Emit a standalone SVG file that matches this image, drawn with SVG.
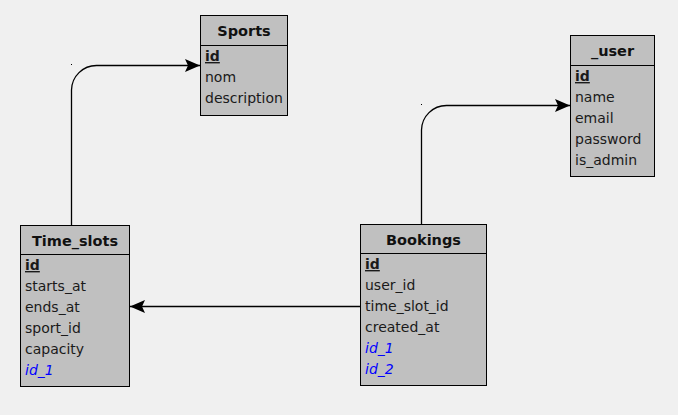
<svg xmlns="http://www.w3.org/2000/svg" width="678" height="415" viewBox="0 0 678 415">
<style>
.box{fill:#C0C0C0;stroke:#000;stroke-width:1}
.sep{stroke:#000;stroke-width:1}
.title{font-family:"DejaVu Sans",sans-serif;font-size:14.5px;font-weight:bold;fill:#111;text-anchor:middle}
.f{font-family:"DejaVu Sans",sans-serif;font-size:14px;fill:#1a1a1a}
.pk{font-weight:bold;text-decoration:underline}
.fk{font-style:italic;fill:#0000FF}
.conn{fill:none;stroke:#000;stroke-width:1.3}
</style>
<defs>
<marker id="arr" markerUnits="userSpaceOnUse" markerWidth="16" markerHeight="14" refX="15" refY="7" orient="auto">
<path d="M15,7 L0,0.5 L3,7 L0,13.5 Z" fill="#000"/>
</marker>
</defs>
<rect width="678" height="415" fill="#F0F0F0"/>
<g id="connectors">
<path class="conn" d="M71.5,225 V90 A25,25 0 0 1 96.5,65.5 H200" marker-end="url(#arr)"/>
<path class="conn" d="M421.5,224 V130 A25,25 0 0 1 446.5,105.5 H570" marker-end="url(#arr)"/>
<path class="conn" d="M360,306.5 H130" marker-end="url(#arr)"/>
<rect x="71" y="64" width="1" height="1" fill="#000"/>
<rect x="421" y="104" width="1" height="1" fill="#000"/>
</g>
<g id="Sports">
<rect class="box" x="200.5" y="15.5" width="87" height="100"/>
<line class="sep" x1="200.5" y1="45.5" x2="287.5" y2="45.5"/>
<text class="title" x="244" y="36">Sports</text>
<text class="f pk" x="205" y="61">id</text>
<text class="f" x="205" y="82">nom</text>
<text class="f" x="205" y="103">description</text>
</g>
<g id="_user">
<rect class="box" x="570.5" y="35.5" width="84" height="141"/>
<line class="sep" x1="570.5" y1="65.5" x2="654.5" y2="65.5"/>
<text class="title" x="612.5" y="56">_user</text>
<text class="f pk" x="575" y="81">id</text>
<text class="f" x="575" y="102">name</text>
<text class="f" x="575" y="123">email</text>
<text class="f" x="575" y="144">password</text>
<text class="f" x="575" y="165">is_admin</text>
</g>
<g id="Time_slots">
<rect class="box" x="20.5" y="225.5" width="109" height="161"/>
<line class="sep" x1="20.5" y1="254.5" x2="129.5" y2="254.5"/>
<text class="title" x="75" y="246">Time_slots</text>
<text class="f pk" x="25" y="270">id</text>
<text class="f" x="25" y="291">starts_at</text>
<text class="f" x="25" y="312">ends_at</text>
<text class="f" x="25" y="333">sport_id</text>
<text class="f" x="25" y="354">capacity</text>
<text class="f fk" x="25" y="375">id_1</text>
</g>
<g id="Bookings">
<rect class="box" x="360.5" y="224.5" width="126" height="161"/>
<line class="sep" x1="360.5" y1="253.5" x2="486.5" y2="253.5"/>
<text class="title" x="423.5" y="245">Bookings</text>
<text class="f pk" x="365" y="269">id</text>
<text class="f" x="365" y="290">user_id</text>
<text class="f" x="365" y="311">time_slot_id</text>
<text class="f" x="365" y="332">created_at</text>
<text class="f fk" x="365" y="353">id_1</text>
<text class="f fk" x="365" y="374">id_2</text>
</g>
</svg>
